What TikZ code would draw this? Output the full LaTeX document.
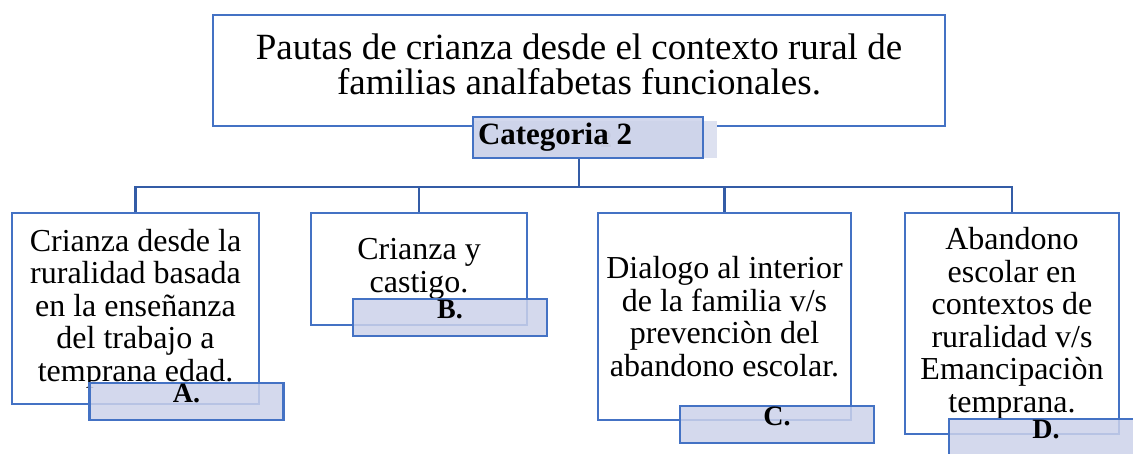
\documentclass[tikz,border=0pt]{standalone}
\usepackage{fontspec}
\setmainfont{Liberation Serif}
\usepackage{xcolor}
\usetikzlibrary{positioning,calc}

\definecolor{boxblue}{RGB}{68,114,196}
\definecolor{linkblue}{RGB}{52,92,166}
\definecolor{tagfill}{RGB}{204,210,234}
\definecolor{ghostfill}{RGB}{221,225,240}

\begin{document}
\begin{tikzpicture}[x=1pt,y=1pt,yscale=-1,
  topbox/.style={draw=boxblue,line width=2.8pt,fill=white},
  subbox/.style={draw=boxblue,line width=2.8pt,fill=white,align=center,
    font=\fontsize{32}{32.5}\selectfont},
  tagbox/.style={draw=boxblue,line width=2.8pt,fill=tagfill,fill opacity=0.85,
    text opacity=1,minimum width=194pt,inner ysep=0pt,text height=19pt,
    text depth=18pt,font=\fontsize{28}{28}\selectfont\bfseries},
  link/.style={draw=linkblue,line width=2.8pt}]
\useasboundingbox (0,0) rectangle (1133,453);

%Title box
\node [topbox,minimum width=732pt,minimum height=111pt] (top) at (579,70.5) {};
\node [align=center,font=\fontsize{37}{35}\selectfont] (title) at (579,64)
  {Pautas de crianza desde el contexto rural de\\familias analfabetas funcionales.};

%Category tag (with its faint shadow)
\fill [ghostfill] (473,121) rectangle (717,158);
\node [text=black!35,font=\fontsize{24}{24}\selectfont\bfseries] (ghost) at (606,140) {2};
\node [draw=boxblue,line width=2.8pt,fill=tagfill,fill opacity=0.85,text opacity=1,
  minimum width=230pt,minimum height=41pt,inner sep=0pt,
  font=\fontsize{31}{31}\selectfont\bfseries] (cat) at (588,137.5)
  {\makebox[220pt][l]{Categoria 2}};

\coordinate (bus) at (580,187);

%Sub-category boxes
\node [subbox,minimum width=247pt,minimum height=191pt] (crianza) at (135.5,308.5)
  {Crianza desde la\\ruralidad basada\\en la enseñanza\\del trabajo a\\temprana edad.};
\node [subbox,minimum width=216pt,minimum height=112pt] (castigo) at (419,269)
  {Crianza y\\castigo.};
\node [subbox,minimum width=253pt,minimum height=207pt] (dialogo) at (724.5,316.5)
  {Dialogo al interior\\de la familia v/s\\prevenciòn del\\abandono escolar.};
\node [subbox,minimum width=214pt,minimum height=221pt] (abandono) at (1012,323.5)
  {Abandono\\escolar en\\contextos de\\ruralidad v/s\\Emancipaciòn\\temprana.};

%Connectors
\draw [link] (top.south |- cat.south) -- (top.south |- bus);
\draw [link] (top.south |- bus) -| (crianza.north);
\draw [link] (top.south |- bus) -| (castigo.north);
\draw [link] (top.south |- bus) -| (dialogo.north);
\draw [link] (top.south |- bus) -| (abandono.north);

%Letter tags
\node [tagbox] (tagA) at (186.5,401.5) {A.};
\node [tagbox] (tagB) at (450,317.5) {B.};
\node [tagbox] (tagC) at (777,424.5) {C.};
\node [tagbox] (tagD) at (1046,437.5) {D.};

\end{tikzpicture}
\end{document}
